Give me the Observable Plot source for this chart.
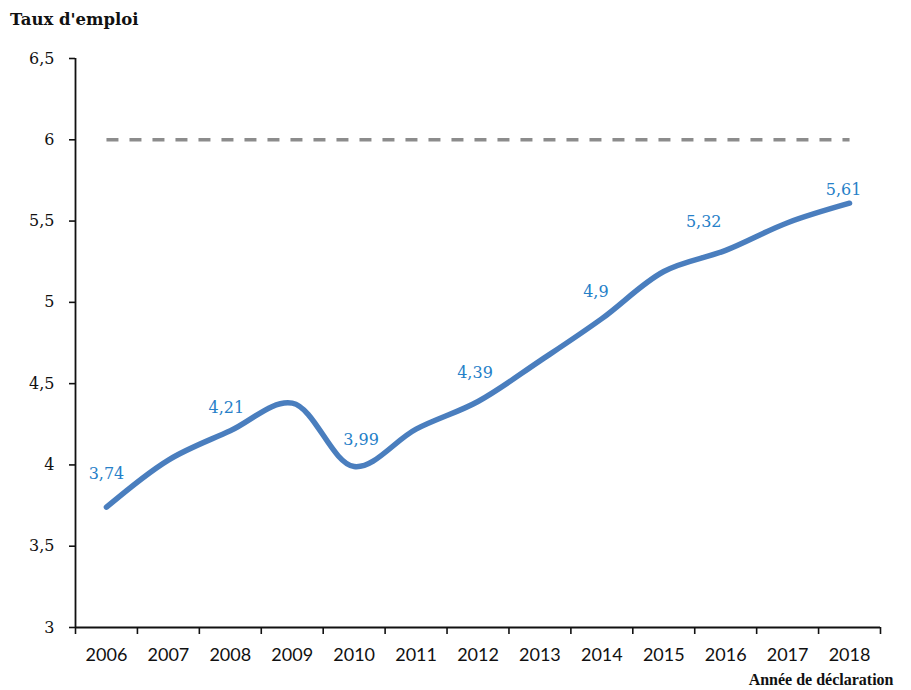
<!DOCTYPE html>
<html>
<head>
<meta charset="utf-8">
<script src="https://cdn.jsdelivr.net/npm/d3@7"></script>
<script src="https://cdn.jsdelivr.net/npm/@observablehq/plot@0.6"></script>
<style>
  html, body { margin: 0; padding: 0; background: #fff; }
  #wrap { width: 911px; height: 690px; position: relative; overflow: hidden; }
  #title { height: 38px; box-sizing: border-box; padding: 10px 0 0 10px; font-family: "DejaVu Serif", serif; font-weight: bold; font-size: 16.5px; color: #111; }
</style>
</head>
<body>
<div id="wrap">
  <div id="title">Taux d'emploi</div>
  <div id="chart"></div>
</div>
<script>
const years = [2006, 2007, 2008, 2009, 2010, 2011, 2012, 2013, 2014, 2015, 2016, 2017, 2018];
const rates = [3.74, 4.03, 4.21, 4.38, 3.99, 4.22, 4.39, 4.64, 4.9, 5.19, 5.32, 5.49, 5.61];
const labeledYears = [2006, 2008, 2010, 2012, 2014, 2016, 2018];
// label placement offsets (px) as in the original chart
const labelDx = [0, -4, 7, -3, -6, -22, -6];
const labelDy = [-33, -23, -27, -29, -27, -28, -13];
const targetRate = 6;
const yTicks = [3, 3.5, 4, 4.5, 5, 5.5, 6, 6.5];
const xLabel = "Année de déclaration";

const data = years.map((y, i) => ({year: y, rate: rates[i]}));
const labeled = data.filter(d => labeledYears.includes(d.year));
const target = years.map(y => ({year: y, rate: targetRate}));
const bounds = d3.range(years[0] - 0.5, years[years.length - 1] + 1, 1);
const fmt = v => String(v).replace(".", ",");

const labelMarks = labeled.map((d, i) =>
  Plot.text([d], {x: "year", y: "rate", text: d => fmt(d.rate), dx: labelDx[i], dy: labelDy[i], fill: "#2680C8", fontSize: 16, fontFamily: "DejaVu Serif"})
);

const chart = Plot.plot({
  width: 911,
  height: 652,
  marginTop: 20,
  marginBottom: 63,
  marginLeft: 75,
  marginRight: 31,
  x: {type: "linear", domain: [years[0] - 0.5, years[years.length - 1] + 0.5]},
  y: {domain: [3, 6.5]},
  marks: [
    Plot.line(target, {x: "year", y: "rate", stroke: "#8C8C8C", strokeWidth: 3.5, strokeDasharray: "12,11", strokeLinecap: "butt"}),
    Plot.line(data, {x: "year", y: "rate", curve: "catmull-rom", stroke: "#4A7EBE", strokeWidth: 5.5, strokeLinecap: "round", strokeLinejoin: "round"}),
    ...labelMarks,
    Plot.axisY({ticks: yTicks, tickFormat: fmt, tickSize: 6, tickPadding: 15, fontSize: 16, fontFamily: "DejaVu Serif", color: "#111", strokeWidth: 1.6, label: null}),
    Plot.axisX({ticks: bounds, tickFormat: () => "", tickSize: 7, strokeWidth: 1.6, color: "#111", label: null}),
    Plot.axisX({ticks: years, tickFormat: d => String(d), tickSize: 0, tickPadding: 21, fontSize: 18, fontFamily: "Lato", color: "#111", label: null}),
    Plot.ruleY([3], {stroke: "#111", strokeWidth: 1.8}),
    Plot.ruleX([years[0] - 0.5], {stroke: "#111", strokeWidth: 1.8}),
    Plot.text([xLabel], {frameAnchor: "bottom-right", dx: 13, dy: 57, text: d => d, fontFamily: "Liberation Serif", fontWeight: "bold", fontSize: 16, fill: "#111", textAnchor: "end"})
  ]
});
document.getElementById("chart").appendChild(chart);
</script>
</body>
</html>
